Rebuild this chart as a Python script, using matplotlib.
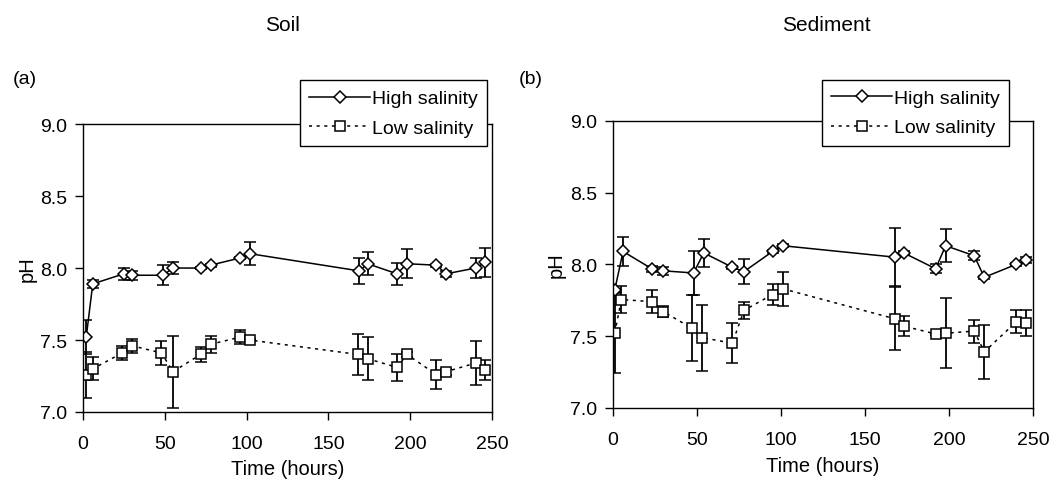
import matplotlib
matplotlib.use("Agg")
import matplotlib.pyplot as plt

plt.rcParams['font.family'] = ['Liberation Sans', 'DejaVu Sans']

# (a) Soil
soil_hi_t = [2, 6, 25, 30, 49, 55, 72, 78, 96, 102, 169, 174, 192, 198, 216, 222, 240, 246]
soil_hi_ph = [7.52, 7.89, 7.96, 7.95, 7.95, 8.00, 8.00, 8.02, 8.07, 8.10, 7.98, 8.03, 7.96, 8.03, 8.02, 7.96, 8.00, 8.04]
soil_hi_err = [0.12, 0.03, 0.04, 0.03, 0.07, 0.04, 0.01, 0.01, 0.01, 0.08, 0.09, 0.08, 0.075, 0.10, 0.01, 0.02, 0.07, 0.10]

soil_lo_t = [2, 6, 24, 30, 48, 55, 72, 78, 96, 102, 168, 174, 192, 198, 216, 222, 240, 246]
soil_lo_ph = [7.26, 7.30, 7.41, 7.46, 7.41, 7.28, 7.40, 7.47, 7.52, 7.50, 7.40, 7.37, 7.31, 7.40, 7.26, 7.28, 7.34, 7.29]
soil_lo_err = [0.16, 0.08, 0.05, 0.05, 0.085, 0.25, 0.05, 0.06, 0.05, 0.01, 0.14, 0.15, 0.095, 0.02, 0.10, 0.02, 0.15, 0.07]

# (b) Sediment
sed_hi_t = [1, 6, 23, 30, 48, 54, 71, 78, 95, 101, 168, 173, 192, 198, 215, 221, 240, 246]
sed_hi_ph = [7.82, 8.09, 7.97, 7.955, 7.94, 8.08, 7.98, 7.95, 8.09, 8.13, 8.05, 8.08, 7.97, 8.13, 8.06, 7.91, 8.00, 8.03]
sed_hi_err = [0.01, 0.10, 0.02, 0.03, 0.15, 0.10, 0.01, 0.085, 0.01, 0.01, 0.20, 0.01, 0.03, 0.115, 0.03, 0.01, 0.01, 0.02]

sed_lo_t = [1, 5, 23, 30, 47, 53, 71, 78, 95, 101, 168, 173, 192, 198, 215, 221, 240, 246]
sed_lo_ph = [7.52, 7.755, 7.74, 7.67, 7.555, 7.49, 7.45, 7.68, 7.79, 7.83, 7.62, 7.57, 7.515, 7.52, 7.535, 7.39, 7.60, 7.59]
sed_lo_err = [0.28, 0.095, 0.08, 0.04, 0.23, 0.23, 0.14, 0.06, 0.075, 0.12, 0.22, 0.07, 0.01, 0.245, 0.08, 0.19, 0.08, 0.09]

yticks = [7.0, 7.5, 8.0, 8.5, 9.0]
xticks = [0, 50, 100, 150, 200, 250]

fig = plt.figure(figsize=(10.58, 4.85), dpi=100)
ax1 = fig.add_axes([0.0784, 0.1485, 0.3866, 0.5935])
ax2 = fig.add_axes([0.5794, 0.157, 0.397, 0.5917])

panels = [
    (ax1, soil_hi_t, soil_hi_ph, soil_hi_err, soil_lo_t, soil_lo_ph, soil_lo_err,
     (0.988, 1.153), -0.137, -0.197),
    (ax2, sed_hi_t, sed_hi_ph, sed_hi_err, sed_lo_t, sed_lo_ph, sed_lo_err,
     (0.943, 1.143), -0.136, -0.202),
]

for ax, ht, hp, he, lt, lp, le, anchor, ylx, xly in panels:
    lo = ax.errorbar(lt, lp, yerr=le, color='black', lw=1.1, ls=(0, (2, 3)),
                     marker='s', ms=7, mfc='white', mec='black', mew=1.1,
                     ecolor='black', elinewidth=1.3, capsize=4.3, capthick=1.3)
    hi = ax.errorbar(ht, hp, yerr=he, color='black', lw=1.1, ls='-',
                     marker='D', ms=6, mfc='white', mec='black', mew=1.1,
                     ecolor='black', elinewidth=1.3, capsize=4.3, capthick=1.3)
    ax.set_xlim(0, 250)
    ax.set_ylim(7.0, 9.0)
    ax.set_xticks(xticks)
    ax.set_yticks(yticks)
    ax.set_yticklabels(['%.1f' % v for v in yticks])
    ax.tick_params(direction='out', length=5.5, width=1, labelsize=14)
    ax.tick_params(axis='x', pad=11)
    ax.tick_params(axis='y', pad=6)
    ax.set_xlabel('Time (hours)', fontsize=14.5, va='center')
    ax.set_ylabel('pH', fontsize=14.5, va='center')
    ax.xaxis.set_label_coords(0.5, xly)
    ax.yaxis.set_label_coords(ylx, 0.5)
    for s in ax.spines.values():
        s.set_linewidth(1)
    leg = ax.legend([hi[0], lo[0]], ['High salinity', 'Low salinity'],
                    loc='upper right', bbox_to_anchor=anchor, numpoints=1,
                    borderaxespad=0, fontsize=14, handlelength=3.1,
                    handletextpad=0.1, labelspacing=0.6, borderpad=0.5,
                    fancybox=False, framealpha=1, edgecolor='black')
    leg.get_frame().set_linewidth(1)

fig.text(0.267, 0.948, 'Soil', fontsize=15, ha='center', va='center')
fig.text(0.781, 0.948, 'Sediment', fontsize=15, ha='center', va='center')
fig.text(0.023, 0.837, '(a)', fontsize=14, ha='center', va='center')
fig.text(0.502, 0.837, '(b)', fontsize=14, ha='center', va='center')

fig.savefig('out.png', dpi=100)
